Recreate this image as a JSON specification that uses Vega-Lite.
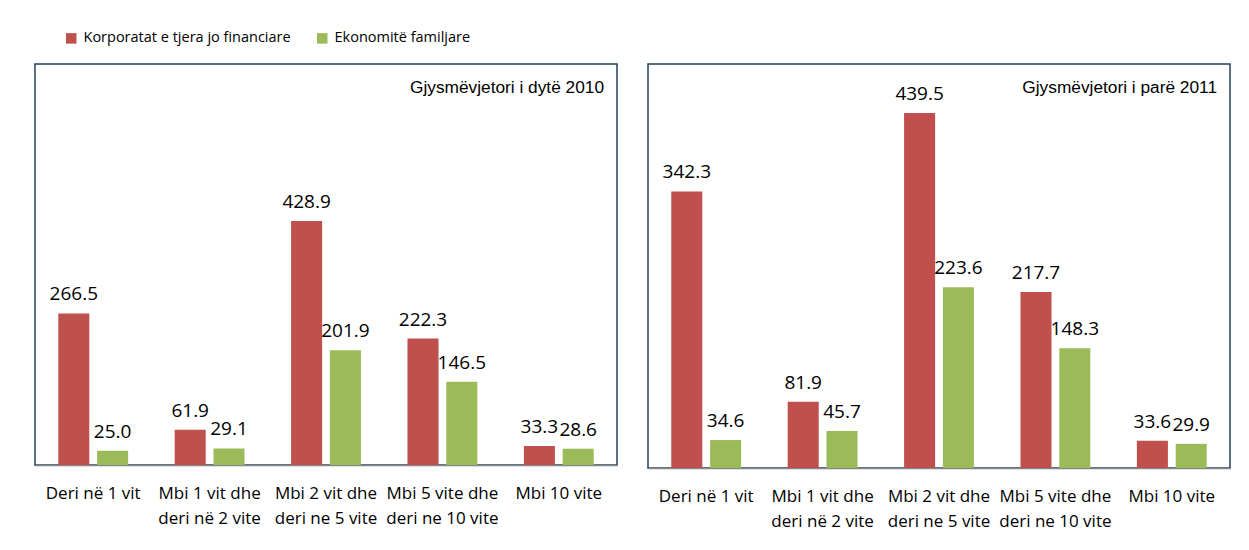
{
  "$schema": "https://vega.github.io/schema/vega-lite/v6.json",
  "background": "white",
  "padding": {"left": 34, "top": 31, "right": 10, "bottom": 10},
  "datasets": {
    "h2010": [
      {"cat": "Deri në 1 vit", "sector": "Korporatat e tjera jo financiare", "v": 266.5},
      {"cat": "Deri në 1 vit", "sector": "Ekonomitë familjare", "v": 25.0},
      {"cat": "Mbi 1 vit dhe|deri në 2 vite", "sector": "Korporatat e tjera jo financiare", "v": 61.9},
      {"cat": "Mbi 1 vit dhe|deri në 2 vite", "sector": "Ekonomitë familjare", "v": 29.1},
      {"cat": "Mbi 2 vit dhe|deri ne 5 vite", "sector": "Korporatat e tjera jo financiare", "v": 428.9},
      {"cat": "Mbi 2 vit dhe|deri ne 5 vite", "sector": "Ekonomitë familjare", "v": 201.9},
      {"cat": "Mbi 5 vite dhe|deri ne 10 vite", "sector": "Korporatat e tjera jo financiare", "v": 222.3},
      {"cat": "Mbi 5 vite dhe|deri ne 10 vite", "sector": "Ekonomitë familjare", "v": 146.5},
      {"cat": "Mbi 10 vite", "sector": "Korporatat e tjera jo financiare", "v": 33.3},
      {"cat": "Mbi 10 vite", "sector": "Ekonomitë familjare", "v": 28.6}
    ],
    "h2011": [
      {"cat": "Deri në 1 vit", "sector": "Korporatat e tjera jo financiare", "v": 342.3},
      {"cat": "Deri në 1 vit", "sector": "Ekonomitë familjare", "v": 34.6},
      {"cat": "Mbi 1 vit dhe|deri në 2 vite", "sector": "Korporatat e tjera jo financiare", "v": 81.9},
      {"cat": "Mbi 1 vit dhe|deri në 2 vite", "sector": "Ekonomitë familjare", "v": 45.7},
      {"cat": "Mbi 2 vit dhe|deri ne 5 vite", "sector": "Korporatat e tjera jo financiare", "v": 439.5},
      {"cat": "Mbi 2 vit dhe|deri ne 5 vite", "sector": "Ekonomitë familjare", "v": 223.6},
      {"cat": "Mbi 5 vite dhe|deri ne 10 vite", "sector": "Korporatat e tjera jo financiare", "v": 217.7},
      {"cat": "Mbi 5 vite dhe|deri ne 10 vite", "sector": "Ekonomitë familjare", "v": 148.3},
      {"cat": "Mbi 10 vite", "sector": "Korporatat e tjera jo financiare", "v": 33.6},
      {"cat": "Mbi 10 vite", "sector": "Ekonomitë familjare", "v": 29.9}
    ]
  },
  "spacing": 29,
  "hconcat": [
    {
      "width": 582,
      "height": 401,
      "data": {"name": "h2010"},
      "title": {
        "text": "Gjysmëvjetori i dytë 2010",
        "anchor": "end",
        "frame": "group",
        "baseline": "alphabetic",
        "offset": -46,
        "dx": -13,
        "font": "Liberation Sans",
        "fontSize": 17.3,
        "fontWeight": "normal",
        "color": "black"
      },
      "encoding": {
        "x": {
          "field": "cat",
          "type": "nominal",
          "sort": null,
          "title": null,
          "scale": {"paddingInner": 0.4, "paddingOuter": 0.2},
          "axis": {
            "labelExpr": "split(datum.label, '|')",
            "labelAngle": 0,
            "labelFontSize": 17,
            "labelLineHeight": 25,
            "labelPadding": 20,
            "labelBaseline": "top",
            "ticks": false,
            "domainColor": "#868686",
            "domainWidth": 1.5
          }
        },
        "xOffset": {
          "field": "sector",
          "sort": ["Korporatat e tjera jo financiare", "Ekonomitë familjare"],
          "scale": {"paddingInner": 0.2}
        },
        "y": {"field": "v", "type": "quantitative", "scale": {"domain": [0, 705]}, "axis": null}
      },
      "layer": [
        {
          "mark": {"type": "bar"},
          "encoding": {
            "color": {
              "field": "sector",
              "type": "nominal",
              "scale": {
                "domain": ["Korporatat e tjera jo financiare", "Ekonomitë familjare"],
                "range": ["#C0504D", "#9BBB59"]
              },
              "legend": {
                "orient": "none",
                "legendX": 29,
                "legendY": -33,
                "direction": "horizontal",
                "title": null,
                "symbolType": "square",
                "symbolSize": 110,
                "symbolStrokeWidth": 0,
                "labelFontSize": 14.5,
                "labelLimit": 400,
                "labelOffset": 5,
                "columnPadding": 24
              }
            }
          }
        },
        {
          "mark": {"type": "text", "baseline": "alphabetic", "dy": -13, "fontSize": 19, "color": "black"},
          "encoding": {"text": {"field": "v", "type": "quantitative", "format": ".1f"}}
        }
      ]
    },
    {
      "width": 582,
      "height": 404,
      "data": {"name": "h2011"},
      "title": {
        "text": "Gjysmëvjetori i parë 2011",
        "anchor": "end",
        "frame": "group",
        "baseline": "alphabetic",
        "offset": -46,
        "dx": -13,
        "font": "Liberation Sans",
        "fontSize": 17.3,
        "fontWeight": "normal",
        "color": "black"
      },
      "encoding": {
        "x": {
          "field": "cat",
          "type": "nominal",
          "sort": null,
          "title": null,
          "scale": {"paddingInner": 0.4, "paddingOuter": 0.2},
          "axis": {
            "labelExpr": "split(datum.label, '|')",
            "labelAngle": 0,
            "labelFontSize": 17,
            "labelLineHeight": 25,
            "labelPadding": 20,
            "labelBaseline": "top",
            "ticks": false,
            "domainColor": "#868686",
            "domainWidth": 1.5
          }
        },
        "xOffset": {
          "field": "sector",
          "sort": ["Korporatat e tjera jo financiare", "Ekonomitë familjare"],
          "scale": {"paddingInner": 0.2}
        },
        "y": {"field": "v", "type": "quantitative", "scale": {"domain": [0, 500]}, "axis": null}
      },
      "layer": [
        {
          "mark": {"type": "bar"},
          "encoding": {
            "color": {
              "field": "sector",
              "type": "nominal",
              "scale": {
                "domain": ["Korporatat e tjera jo financiare", "Ekonomitë familjare"],
                "range": ["#C0504D", "#9BBB59"]
              }
            }
          }
        },
        {
          "mark": {"type": "text", "baseline": "alphabetic", "dy": -13, "fontSize": 19, "color": "black"},
          "encoding": {"text": {"field": "v", "type": "quantitative", "format": ".1f"}}
        }
      ]
    }
  ],
  "config": {
    "font": "Open Sans",
    "view": {"stroke": "#243F60", "strokeWidth": 1.5},
    "axis": {"labelFont": "Open Sans", "labelColor": "black"},
    "legend": {"labelFont": "Open Sans", "labelColor": "black"}
  }
}
